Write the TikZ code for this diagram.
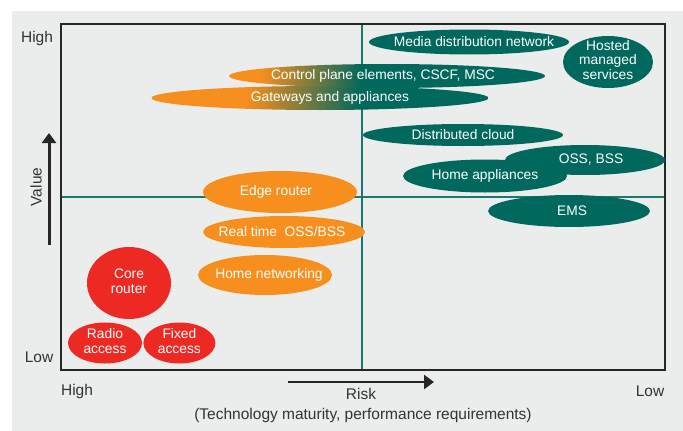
\documentclass[tikz,border=0pt]{standalone}
\usepackage{fontspec}
\setmainfont{Liberation Sans}
\usetikzlibrary{arrows.meta,shapes.geometric,positioning}
\definecolor{ngOrange}{RGB}{247,143,30}
\definecolor{ngTeal}{RGB}{0,104,92}
\definecolor{ngRed}{RGB}{237,41,36}
\definecolor{ngPanel}{RGB}{235,237,236}
\pgfdeclarehorizontalshading{cpfade}{100bp}{color(0bp)=(ngOrange); color(30bp)=(ngOrange); color(46bp)=(ngTeal); color(100bp)=(ngTeal)}
\pgfdeclarehorizontalshading{gwfade}{100bp}{color(0bp)=(ngOrange); color(39bp)=(ngOrange); color(56bp)=(ngTeal); color(100bp)=(ngTeal)}
\newcommand\blobtxt[2][0pt]{\makebox[0pt]{\kern#1\kern#1#2}}
\tikzset{
    every picture/.style={
        x=1pt,y=-1pt,>={Triangle[length=10pt,width=14pt]},
        blob/.style={ellipse,inner sep=0pt,text=white,font=\fontsize{13.8}{14.5}\selectfont},
        teal blob/.style={blob,fill=ngTeal},
        orange blob/.style={blob,fill=ngOrange},
        red blob/.style={blob,fill=ngRed},
        axis label/.style={inner sep=0pt,font=\fontsize{15.5}{17}\selectfont,text=black!80},
        frame/.style={line width=2.5pt,black!85},
        quad/.style={line width=1.5pt,ngTeal!90}
    }
}

\begin{document}
\begin{tikzpicture}
    \useasboundingbox (0,0) rectangle (683,431);
    \fill[ngPanel] (12,11) rectangle (683,431);
    \coordinate (nw) at (61,24);
    \coordinate (se) at (665,370);
    \draw[quad] (362,24) -- (362,370);
    \draw[quad] (61,197) -- (665,197);
    \draw[frame] (nw) rectangle (se);
    % high value, low risk
    \node[teal blob,minimum width=200pt,minimum height=25pt] (media) at (469,42) {\blobtxt[5pt]{Media distribution network}};
    \node[teal blob,minimum width=90pt,minimum height=52pt,inner ysep=-3.5pt] (hosted) at (608,62) {\blobtxt{\begin{tabular}{@{}c@{}}Hosted\\managed\\services\end{tabular}}};
    \node[blob,shading=gwfade,minimum width=337pt,minimum height=24pt] (gw) at (320,98) {\blobtxt[10pt]{Gateways and appliances}};
    \node[blob,shading=cpfade,minimum width=316pt,minimum height=24pt] (cp) at (387,76) {\blobtxt[-4pt]{Control plane elements, CSCF, MSC}};
    \node[teal blob,minimum width=200pt,minimum height=22pt] (cloud) at (463,135) {\blobtxt{Distributed cloud}};
    \node[teal blob,minimum width=160pt,minimum height=30pt] (oss) at (585,160) {\blobtxt[6pt]{OSS, BSS}};
    \node[teal blob,minimum width=164pt,minimum height=33pt] (homeapp) at (485,176) {\blobtxt{Home appliances}};
    \node[teal blob,minimum width=162pt,minimum height=32pt] (ems) at (569,211) {\blobtxt[3pt]{EMS}};
    % middle
    \node[orange blob,minimum width=154pt,minimum height=42pt] (edge) at (280,192) {\blobtxt[-4pt]{Edge router}};
    \node[orange blob,minimum width=162pt,minimum height=32pt] (rtoss) at (284,232) {\blobtxt[-2pt]{Real time\ \ OSS/BSS}};
    \node[orange blob,minimum width=134pt,minimum height=40pt] (homenet) at (265,275) {\blobtxt[4pt]{Home networking}};
    % low value, high risk
    \node[red blob,minimum width=84pt,minimum height=72pt] (core) at (129,283) {\blobtxt{\begin{tabular}{@{}c@{}}Core\\router\end{tabular}}};
    \node[red blob,minimum width=74pt,minimum height=40pt] (radio) at (105,343) {\blobtxt{\begin{tabular}{@{}c@{}}Radio\\access\end{tabular}}};
    \node[red blob,minimum width=72pt,minimum height=40pt] (fixed) [right=1pt of radio] {\blobtxt{\begin{tabular}{@{}c@{}}Fixed\\access\end{tabular}}};
    % axes
    \node[axis label]          (yhigh)   at (37,38)   {High};
    \node[axis label]          (ylow)    at (39,357)  {Low};
    \node[axis label,rotate=90] (value)  at (36,187)  {Value};
    \node[axis label]          (xhigh)   at (77,391)  {High};
    \node[axis label]          (xlow)    at (650,391) {Low};
    \node[axis label]          (risk)    at (361,394) {Risk};
    \node[axis label]          (riskwhy) at (363,415) {(Technology maturity, performance requirements)};
    \coordinate (vtail) at (49,245);
    \coordinate (vtip)  at (49,133);
    \coordinate (rtail) at (288,382);
    \coordinate (rtip)  at (434,382);
    \draw[->,line width=3pt,black!85] (vtail) -- (vtip);
    \draw[->,line width=2.5pt,black!85] (rtail) -- (rtip);
\end{tikzpicture}
\end{document}
